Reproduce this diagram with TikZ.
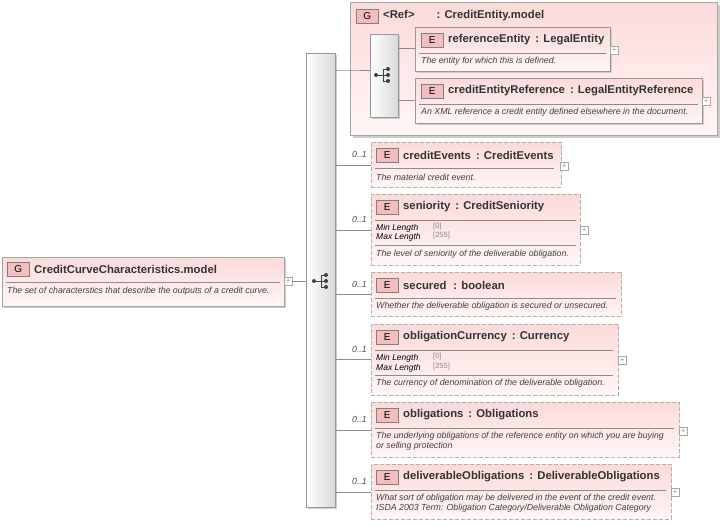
\documentclass[tikz,border=0pt]{standalone}
\usepackage{fontspec}
\setmainfont{Liberation Sans}
\begin{document}
\begin{tikzpicture}[x=1pt,y=-1pt,
  box/.style={draw=black!35,top color={rgb,255:red,252;green,218;blue,218},bottom color={rgb,255:red,255;green,246;blue,246},anchor=north west,inner sep=0,minimum width=0},
  dbox/.style={box,dashed,dash pattern=on 4pt off 2pt,draw=black!30,line width=0.9pt},
  badge/.style={draw=black!50,fill={rgb,255:red,245;green,190;blue,190},minimum width=22,minimum height=14,inner sep=0,font=\fontsize{10}{11}\selectfont,anchor=west},
  ttl/.style={anchor=west,font=\bfseries\fontsize{11.3}{12}\selectfont,text=black!80,inner sep=0},
  dsc/.style={anchor=west,font=\itshape\fontsize{8.8}{10.5}\selectfont,text=black!75,inner sep=0,align=left},
  fac/.style={anchor=west,font=\itshape\fontsize{8.5}{9}\selectfont,inner sep=0},
  fv/.style={anchor=west,font=\fontsize{7.5}{9}\selectfont,text=black!45,inner sep=0},
  sep/.style={draw=black!45,line width=0.5pt},
  con/.style={draw=black!45,line width=0.6pt},
  card/.style={anchor=east,font=\itshape\fontsize{8.8}{10}\selectfont,text=black!70,inner sep=0},
  plus/.style={draw=black!35,fill=white,minimum size=8,inner sep=0,anchor=west,font=\fontsize{8}{8}\selectfont,text=black!40},
  seqbar/.style={draw=black!40,left color=white,right color=black!15,anchor=north west,inner sep=0}]
\useasboundingbox (0,0) rectangle (722,525);
\newcommand\seqicon[2]{%
 \fill[black!75] (#1-7,#2) circle (2);
 \draw[black!75,line width=0.8pt] (#1-7,#2)--(#1,#2) (#1,#2-6)--(#1,#2+6) (#1,#2-6)--(#1+4,#2-6) (#1,#2)--(#1+4,#2) (#1,#2+6)--(#1+4,#2+6);
 \fill[black!75] (#1+5,#2-6) circle (2) (#1+5,#2) circle (2) (#1+5,#2+6) circle (2);}
% left group
\fill[black!20] (4,259) rectangle (286,308);
\node[box,minimum width=282,minimum height=49] (root) at (2,257) {};
\node[badge] (rootg) at (7,269) {G};
\node[ttl] (roott) at (34,269) {CreditCurveCharacteristics.model};
\draw[sep] (6,282)--(280,282);
\node[dsc] (rootd) at (7,291) {The set of characterstics that describe the outputs of a credit curve.};
\node[plus] (rootp) at (284,281) {+};
% main sequence
\fill[black!20] (308,55) rectangle (337,509);
\node[seqbar,minimum width=29,minimum height=454] (seq) at (306,53) {};
\seqicon{321}{281}
\draw[con] (rootp.east)--(seq.west|-rootp);
% ref group
\fill[black!20] (353,5) rectangle (720,138);
\node[box,minimum width=367,minimum height=133] (ref) at (350,2) {};
\node[badge] (refg) at (356,16) {G};
\node[ttl] (reft) at (383,16) {<Ref>\hspace{22pt}: CreditEntity.model};
\fill[black!20] (372,36) rectangle (400,119);
\node[seqbar,minimum width=28,minimum height=83] (seq2) at (370,34) {};
\seqicon{383}{75}
\draw[con] (seq.east|-0,70)--(ref.west|-0,70) -- (seq2.west|-0,70);
% referenceEntity
\fill[black!20] (417,29) rectangle (612,73);
\node[box,draw=black!40,minimum width=195,minimum height=44] (re) at (415,27) {};
\node[badge] (reb) at (421,40) {E};
\node[ttl] (ret) at (448,40) {referenceEntity\, : LegalEntity};
\draw[sep] (419,53)--(606,53);
\node[dsc] (red) at (421,61) {The entity for which this is defined.};
\node[plus] (rep) at (610,50) {+};
\draw[con] (seq2.east|-0,48)--(re.west|-0,48);
% creditEntityReference
\fill[black!20] (417,80) rectangle (704,125);
\node[box,draw=black!40,minimum width=287,minimum height=45] (cer) at (415,78) {};
\node[badge] (cerb) at (421,91) {E};
\node[ttl] (cert) at (448,91) {creditEntityReference\, : LegalEntityReference};
\draw[sep] (419,104)--(698,104);
\node[dsc] (cerd) at (421,112) {An XML reference a credit entity defined elsewhere in the document.};
\node[plus] (cerp) at (702,101) {+};
\draw[con] (seq2.east|-0,100)--(cer.west|-0,100);
% creditEvents
\node[dbox,minimum width=190,minimum height=45] (ce) at (371,142) {};
\node[badge] (ceb) at (376,155) {E};
\node[ttl] (cet) at (403,155) {creditEvents\, : CreditEvents};
\draw[sep] (375,168)--(554,168);
\node[dsc] (ced) at (376,177) {The material credit event.};
\node[plus] (cep) at (560,166) {+};
\draw[con] (seq.east|-0,165)--(ce.west|-0,165);
\node[card] (cec) at (367,154) {0..1};
% seniority
\node[dbox,minimum width=209,minimum height=71] (se) at (371,194) {};
\node[badge] (seb) at (376,207) {E};
\node[ttl] (set) at (403,207) {seniority\, : CreditSeniority};
\draw[sep] (375,220)--(576,220);
\node[fac] (sem1) at (376,228) {Min Length}; \node[fv] (sev1) at (433,227) {[0]};
\node[fac] (sem2) at (376,237) {Max Length}; \node[fv] (sev2) at (433,236) {[255]};
\draw[sep] (375,245)--(576,245);
\node[dsc] (sed) at (376,254) {The level of seniority of the deliverable obligation.};
\node[plus] (sep) at (580,230) {+};
\draw[con] (seq.east|-0,230)--(se.west|-0,230);
\node[card] (sec) at (367,219) {0..1};
% secured
\node[dbox,minimum width=250,minimum height=44] (sc) at (371,272) {};
\node[badge] (scb) at (376,285) {E};
\node[ttl] (sct) at (403,285) {secured\, \,: boolean};
\draw[sep] (375,298)--(616,298);
\node[dsc] (scd) at (376,306) {Whether the deliverable obligation is secured or unsecured.};
\draw[con] (seq.east|-0,294)--(sc.west|-0,294);
\node[card] (scc) at (367,284) {0..1};
% obligationCurrency
\node[dbox,minimum width=247,minimum height=71] (oc) at (371,324) {};
\node[badge] (ocb) at (376,337) {E};
\node[ttl] (oct) at (403,337) {obligationCurrency\, : Currency};
\draw[sep] (375,350)--(613,350);
\node[fac] (ocm1) at (376,358) {Min Length}; \node[fv] (ocv1) at (433,357) {[0]};
\node[fac] (ocm2) at (376,368) {Max Length}; \node[fv] (ocv2) at (433,367) {[255]};
\draw[sep] (375,375)--(613,375);
\node[dsc] (ocd) at (376,383) {The currency of denomination of the deliverable obligation.};
\node[plus] (ocp) at (618,360) {+};
\draw[con] (seq.east|-0,359)--(oc.west|-0,359);
\node[card] (occ) at (367,349) {0..1};
% obligations
\node[dbox,minimum width=308,minimum height=55] (ob) at (371,402) {};
\node[badge] (obb) at (376,415) {E};
\node[ttl] (obt) at (403,415) {obligations\, : Obligations};
\draw[sep] (375,428)--(674,428);
\node[dsc] (obd) at (376,441) {The underlying obligations of the reference entity on which you are buying\\or selling protection};
\node[plus] (obp) at (679,431) {+};
\draw[con] (seq.east|-0,430)--(ob.west|-0,430);
\node[card] (obc) at (367,419) {0..1};
% deliverableObligations
\node[dbox,minimum width=300,minimum height=55] (dob) at (371,464) {};
\node[badge] (dobb) at (376,477) {E};
\node[ttl] (dobt) at (403,477) {deliverableObligations\, : DeliverableObligations};
\draw[sep] (375,490)--(666,490);
\node[dsc] (dobd) at (376,503) {What sort of obligation may be delivered in the event of the credit event.\\ISDA 2003 Term: Obligation Category/Deliverable Obligation Category};
\node[plus] (dobp) at (671,492) {+};
\draw[con] (seq.east|-0,492)--(dob.west|-0,492);
\node[card] (dobc) at (367,481) {0..1};
\end{tikzpicture}
\end{document}
